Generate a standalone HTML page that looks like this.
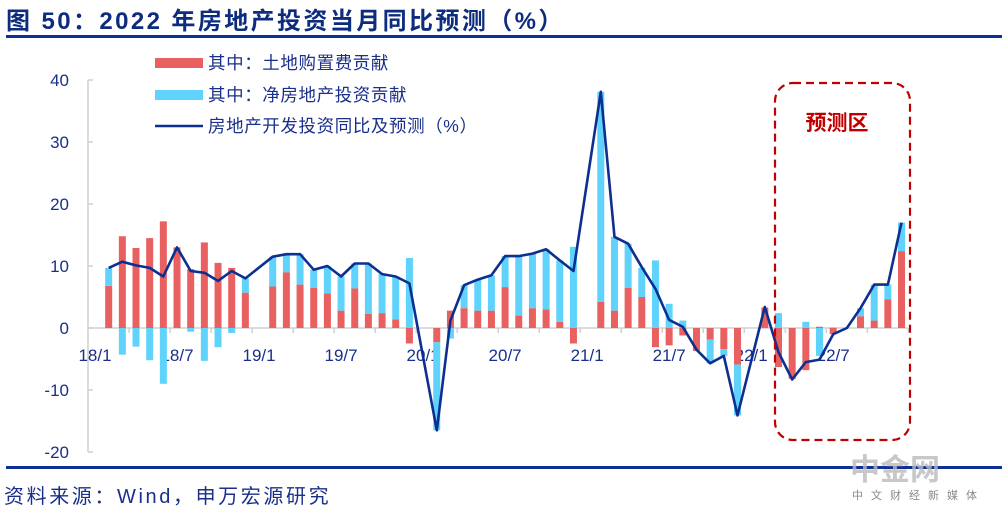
<!DOCTYPE html>
<html><head><meta charset="utf-8">
<style>
html,body{margin:0;padding:0;background:#fff;}
body{width:1008px;height:513px;position:relative;overflow:hidden;font-family:"Liberation Sans","Noto Sans CJK SC",sans-serif;}
.title{position:absolute;left:6px;top:1px;font-size:24px;letter-spacing:2.4px;font-weight:bold;color:#0d2c7e;white-space:nowrap;}
.rule{position:absolute;left:6px;width:996px;background:#0d3192;}
.src{position:absolute;left:4px;top:480px;font-size:20px;letter-spacing:2.6px;color:#1a2f8a;white-space:nowrap;}
.wm{position:absolute;left:850px;top:445px;font-size:30px;font-weight:bold;color:#bbb;opacity:.8;}
.wm2{position:absolute;left:852px;top:487px;font-size:11px;color:#888;letter-spacing:8px;}
</style></head><body>
<div class="title">图 50：2022 年房地产投资当月同比预测（%）</div>
<div class="rule" style="top:35px;height:3px"></div>
<div class="rule" style="top:466px;height:3px"></div>
<div class="src">资料来源：Wind，申万宏源研究</div>
<div class="wm">中金网</div>
<div class="wm2">中文财经新媒体</div>
<svg id="chart" width="1008" height="513" style="position:absolute;left:0;top:0"></svg>
<script>
// month index 0 = 18/1 ... 59 = 22/12 ; null = January (no data)
const xLabels = ["18/1","18/7","19/1","19/7","20/1","20/7","21/1","21/7","22/1","22/7"];
const yTicks = [-20,-10,0,10,20,30,40];
const landContrib = [null,6.8,14.8,12.9,14.5,17.2,13.0,9.5,13.8,10.5,9.7,5.7,
 null,6.7,9.0,7.0,6.5,5.6,2.8,6.4,2.3,2.4,1.4,-2.5,
 null,-2.3,2.8,3.2,2.8,2.8,6.6,2.0,3.2,3.0,1.0,-2.5,
 null,4.2,2.8,6.5,5.0,-3.1,-2.8,-1.2,-3.7,-1.9,-3.4,-5.9,
 null,3.3,-6.3,-8.2,-6.8,0.2,-1.0,0,1.9,1.2,4.6,12.4];
const netContrib = [null,2.9,-4.3,-3.0,-5.2,-9.0,0,-0.6,-5.3,-3.1,-0.8,2.3,
 null,4.8,2.9,4.9,2.9,4.4,5.5,4.0,8.1,6.3,6.9,11.3,
 null,-14.2,-1.7,3.7,5.0,5.7,5.0,9.6,8.8,9.7,9.9,13.1,
 null,33.9,11.9,7.1,4.7,10.9,3.9,1.2,0,-3.8,-1.1,-8.2,
 null,0,2.4,0,1.0,-4.5,0.1,0,1.3,5.8,2.4,4.6];
const investYoY = [null,9.7,10.7,10.1,9.7,8.3,13.0,9.2,8.9,7.6,9.2,8.0,
 null,11.5,11.9,11.9,9.4,10.0,8.3,10.4,10.4,8.7,8.3,7.2,
 null,-16.5,1.2,6.9,7.8,8.5,11.6,11.6,12.0,12.7,10.9,9.2,
 null,38.1,14.7,13.6,9.8,6.3,1.3,0.2,-3.5,-5.7,-4.5,-14.1,
 null,3.4,-3.9,-8.3,-5.5,-5.1,-1.0,0,3.2,7.0,7.0,17.0];

const NS="http://www.w3.org/2000/svg";
const svg=document.getElementById('chart');
const X0=95, DX=13.67, Y0=328, PY=6.2;
const xs=i=>X0+i*DX;
const ys=v=>Y0-v*PY;
function mk(tag,attrs,parent){const e=document.createElementNS(NS,tag);for(const k in attrs)e.setAttribute(k,attrs[k]);(parent||svg).appendChild(e);return e;}

let ax=mk('line',{x1:88,y1:ys(40),x2:88,y2:ys(-20),stroke:'#d0d0d0','stroke-width':1.5});


yTicks.forEach(v=>{
  let t=mk('line',{x1:88,y1:ys(v),x2:93,y2:ys(v),stroke:'#d0d0d0','stroke-width':1.5});
  
  
  let tx=mk('text',{x:69,y:ys(v)+6,'text-anchor':'end','font-size':17,fill:'#1a2f8a','font-family':'Liberation Sans, sans-serif'});
  tx.textContent=v;
  
  
});
let zl=mk('line',{x1:88,y1:Y0,x2:xs(59)+6,y2:Y0,stroke:'#d0d0d0','stroke-width':1.5});


for(let k=0;k<20;k++){
  const tx0=xs(3*k+2.5);
  let t=mk('line',{x1:tx0,y1:Y0,x2:tx0,y2:Y0+5,stroke:'#d0d0d0','stroke-width':1.5});
  
  
}
xLabels.forEach((l,k)=>{
  let tx=mk('text',{x:xs(k*6),y:361,'text-anchor':'middle','font-size':17,fill:'#1a2f8a','font-family':'Liberation Sans, sans-serif'});
  tx.textContent=l;
  
  
});
const BW=7;
for(let i=0;i<landContrib.length;i++){
  if(landContrib[i]===null)continue;
  let pos=0,neg=0;
  [[landContrib[i],'#e96060','bar-land'],[netContrib[i],'#5fd3fb','bar-net']].forEach(([v,c,n])=>{
    if(!v)return;
    let a,b;
    if(v>0){a=pos;b=pos+v;pos=b;}else{a=neg;b=neg+v;neg=b;}
    let r=mk('rect',{x:xs(i)-BW/2,y:Math.min(ys(a),ys(b)),width:BW,height:Math.abs(ys(a)-ys(b)),fill:c});
    
    
  });
}
let d='';
investYoY.forEach((v,i)=>{if(v===null)return;d+=(d?'L':'M')+xs(i).toFixed(1)+' '+ys(v).toFixed(1);});
let ln=mk('path',{d:d,fill:'none',stroke:'#0d2f8f','stroke-width':2.6,'stroke-linejoin':'round'});


let fb=mk('rect',{x:775,y:83,width:135,height:357,rx:18,fill:'none',stroke:'#c00000','stroke-width':2.2,'stroke-dasharray':'8 5'});


let ft=mk('text',{x:837,y:130,'text-anchor':'middle','font-size':21,'font-weight':'bold',fill:'#c00000','font-family':'Noto Sans CJK SC, sans-serif'});
ft.textContent='预测区';


const legend=[['rect','#e96060','其中：土地购置费贡献',63],['rect','#5fd3fb','其中：净房地产投资贡献',95],['line','#0d2f8f','房地产开发投资同比及预测（%）',126]];
legend.forEach(([t,c,label,y])=>{
  let s;
  if(t==='rect')s=mk('rect',{x:155,y:y-5,width:48,height:10,fill:c});
  else s=mk('line',{x1:155,y1:y,x2:203,y2:y,stroke:c,'stroke-width':2.6});
  
  
  let tx=mk('text',{x:208,y:y+6,'font-size':17.5,'letter-spacing':0.6,fill:'#1a2f8a','font-family':'Liberation Sans, Noto Sans CJK SC, sans-serif'});
  tx.textContent=label;
  
  
});
</script>
</body></html>
